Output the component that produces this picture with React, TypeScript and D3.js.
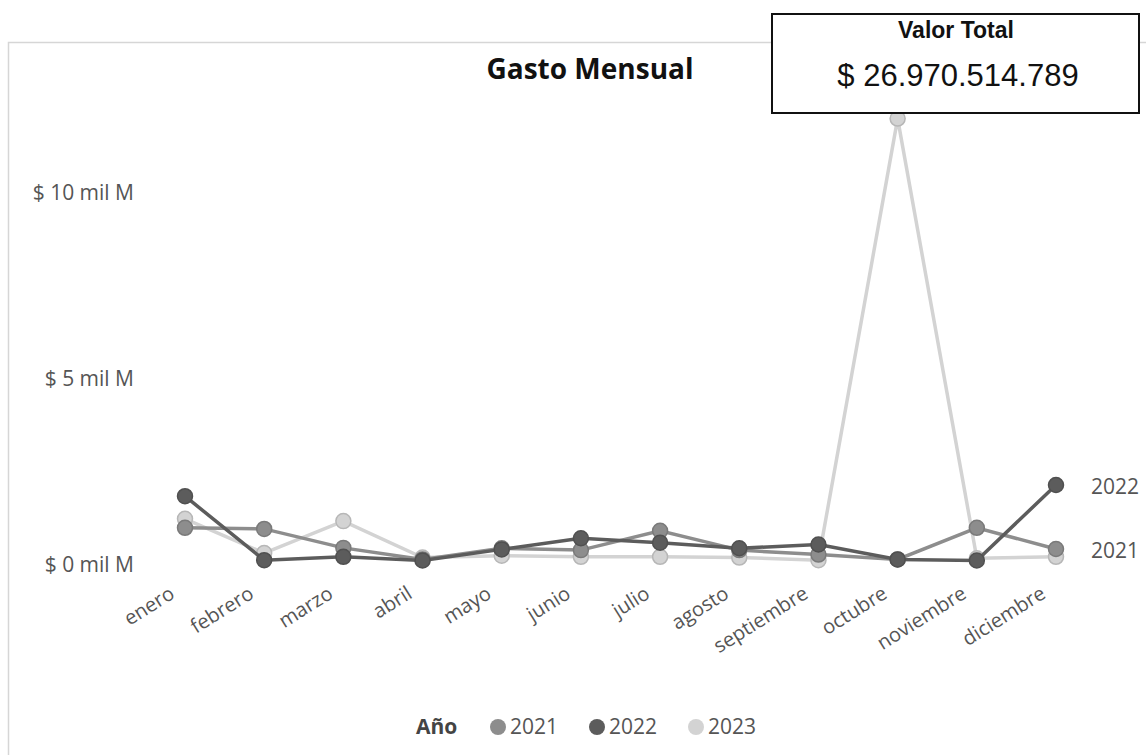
import React, { useEffect, useRef } from "react";
import * as d3 from "d3";

// months on the x axis
const months = [
  "enero", "febrero", "marzo", "abril", "mayo", "junio",
  "julio", "agosto", "septiembre", "octubre", "noviembre", "diciembre",
];

// monthly spend, in "mil M" (thousand millions)
const values2021 = [1.0, 0.97, 0.46, 0.15, 0.45, 0.4, 0.92, 0.4, 0.28, 0.15, 1.0, 0.43];
const values2022 = [1.85, 0.13, 0.22, 0.12, 0.42, 0.72, 0.6, 0.45, 0.55, 0.15, 0.12, 2.15];
const values2023 = [1.24, 0.32, 1.18, 0.2, 0.25, 0.22, 0.22, 0.2, 0.13, 12.0, 0.18, 0.22];

const years = ["2021", "2022", "2023"];
const yTicks = [0, 5, 10];
const totalLabel = "$ 26.970.514.789";

const colors: Record<string, string> = {
  "2021": "#8d8d8d",
  "2022": "#5c5c5c",
  "2023": "#d3d3d3",
};

const App = () => {
  const svgRef = useRef<SVGSVGElement>(null);

  useEffect(() => {
    const width = 1146;
    const height = 755;
    const svg = d3.select(svgRef.current).attr("width", width).attr("height", height);
    svg.selectAll("*").remove();

    const font = "'Open Sans', 'Noto Sans', sans-serif";

    // faint frame of the visual
    svg.append("path")
      .attr("d", "M8.5,755 L8.5,42.5 L1146,42.5")
      .attr("fill", "none")
      .attr("stroke", "#d6d6d6")
      .attr("stroke-width", 1.5);

    // scales
    const x = d3.scalePoint().domain(months).range([185, 1056]);
    const y = d3.scaleLinear().domain([0, 10]).range([565, 193]);

    // title
    svg.append("text")
      .attr("x", 590)
      .attr("y", 79)
      .attr("text-anchor", "middle")
      .attr("font-family", font)
      .attr("font-weight", "bold")
      .attr("font-size", 28)
      .attr("fill", "#111")
      .text("Gasto Mensual");

    // y axis labels
    svg.append("g")
      .selectAll("text")
      .data(yTicks)
      .enter()
      .append("text")
      .attr("x", 134)
      .attr("y", (d) => y(d))
      .attr("dy", "0.35em")
      .attr("text-anchor", "end")
      .attr("font-family", font)
      .attr("font-size", 21)
      .attr("fill", "#555")
      .text((d) => `$ ${d} mil M`);

    // x axis labels, rotated
    svg.append("g")
      .selectAll("text")
      .data(months)
      .enter()
      .append("text")
      .attr("transform", (d) => `translate(${(x(d) as number) - 9},${597}) rotate(-32)`)
      .attr("text-anchor", "end")
      .attr("font-family", font)
      .attr("font-size", 20)
      .attr("fill", "#555")
      .text((d) => d);

    const series = [
      { year: "2021", values: values2021 },
      { year: "2022", values: values2022 },
      { year: "2023", values: values2023 },
    ];

    const line = d3.line<number>()
      .x((_, i) => x(months[i]) as number)
      .y((d) => y(d));

    // draw 2023 first so the darker years sit on top near zero
    const order = ["2023", "2021", "2022"];
    order.forEach((yr) => {
      const s = series.find((d) => d.year === yr)!;
      const g = svg.append("g");
      g.append("path")
        .datum(s.values)
        .attr("d", line)
        .attr("fill", "none")
        .attr("stroke", colors[yr])
        .attr("stroke-width", 3.5);
      g.selectAll("circle")
        .data(s.values)
        .enter()
        .append("circle")
        .attr("cx", (_, i) => x(months[i]) as number)
        .attr("cy", (d) => y(d))
        .attr("r", 7.5)
        .attr("fill", colors[yr])
        .attr("stroke", d3.color(colors[yr])!.darker(0.4).toString())
        .attr("stroke-width", 1.5);
    });

    // end labels
    [{ year: "2022", values: values2022 }, { year: "2021", values: values2021 }].forEach((s) => {
      svg.append("text")
        .attr("x", 1091)
        .attr("y", y(s.values[s.values.length - 1]) + 2)
        .attr("dy", "0.35em")
        .attr("font-family", font)
        .attr("font-size", 21)
        .attr("fill", "#555")
        .text(s.year);
    });

    // total box
    svg.append("rect")
      .attr("x", 772)
      .attr("y", 14)
      .attr("width", 367)
      .attr("height", 99)
      .attr("fill", "#fff")
      .attr("stroke", "#111")
      .attr("stroke-width", 2);
    svg.append("text")
      .attr("x", 956)
      .attr("y", 38)
      .attr("text-anchor", "middle")
      .attr("font-family", "'Liberation Sans', Arial, sans-serif")
      .attr("font-weight", "bold")
      .attr("font-size", 23)
      .attr("fill", "#111")
      .text("Valor Total");
    svg.append("text")
      .attr("x", 958)
      .attr("y", 86)
      .attr("text-anchor", "middle")
      .attr("font-family", "'Liberation Sans', Arial, sans-serif")
      .attr("font-size", 31)
      .attr("fill", "#111")
      .text(totalLabel);

    // legend
    const legend = svg.append("g");
    legend.append("text")
      .attr("x", 416)
      .attr("y", 734)
      .attr("font-family", font)
      .attr("font-weight", "bold")
      .attr("font-size", 21)
      .attr("fill", "#444")
      .text("Año");
    const legendX = d3.scaleOrdinal<string, number>().domain(years).range([498, 597, 696]);
    years.forEach((yr) => {
      legend.append("circle")
        .attr("cx", legendX(yr))
        .attr("cy", 727)
        .attr("r", 8)
        .attr("fill", colors[yr]);
      legend.append("text")
        .attr("x", legendX(yr) + 12)
        .attr("y", 734)
        .attr("font-family", font)
        .attr("font-size", 21)
        .attr("fill", "#555")
        .text(yr);
    });
  }, []);

  return (
    <div style={{ position: "absolute", left: 0, top: 0 }}>
      <svg ref={svgRef}></svg>
    </div>
  );
};

export default App;
